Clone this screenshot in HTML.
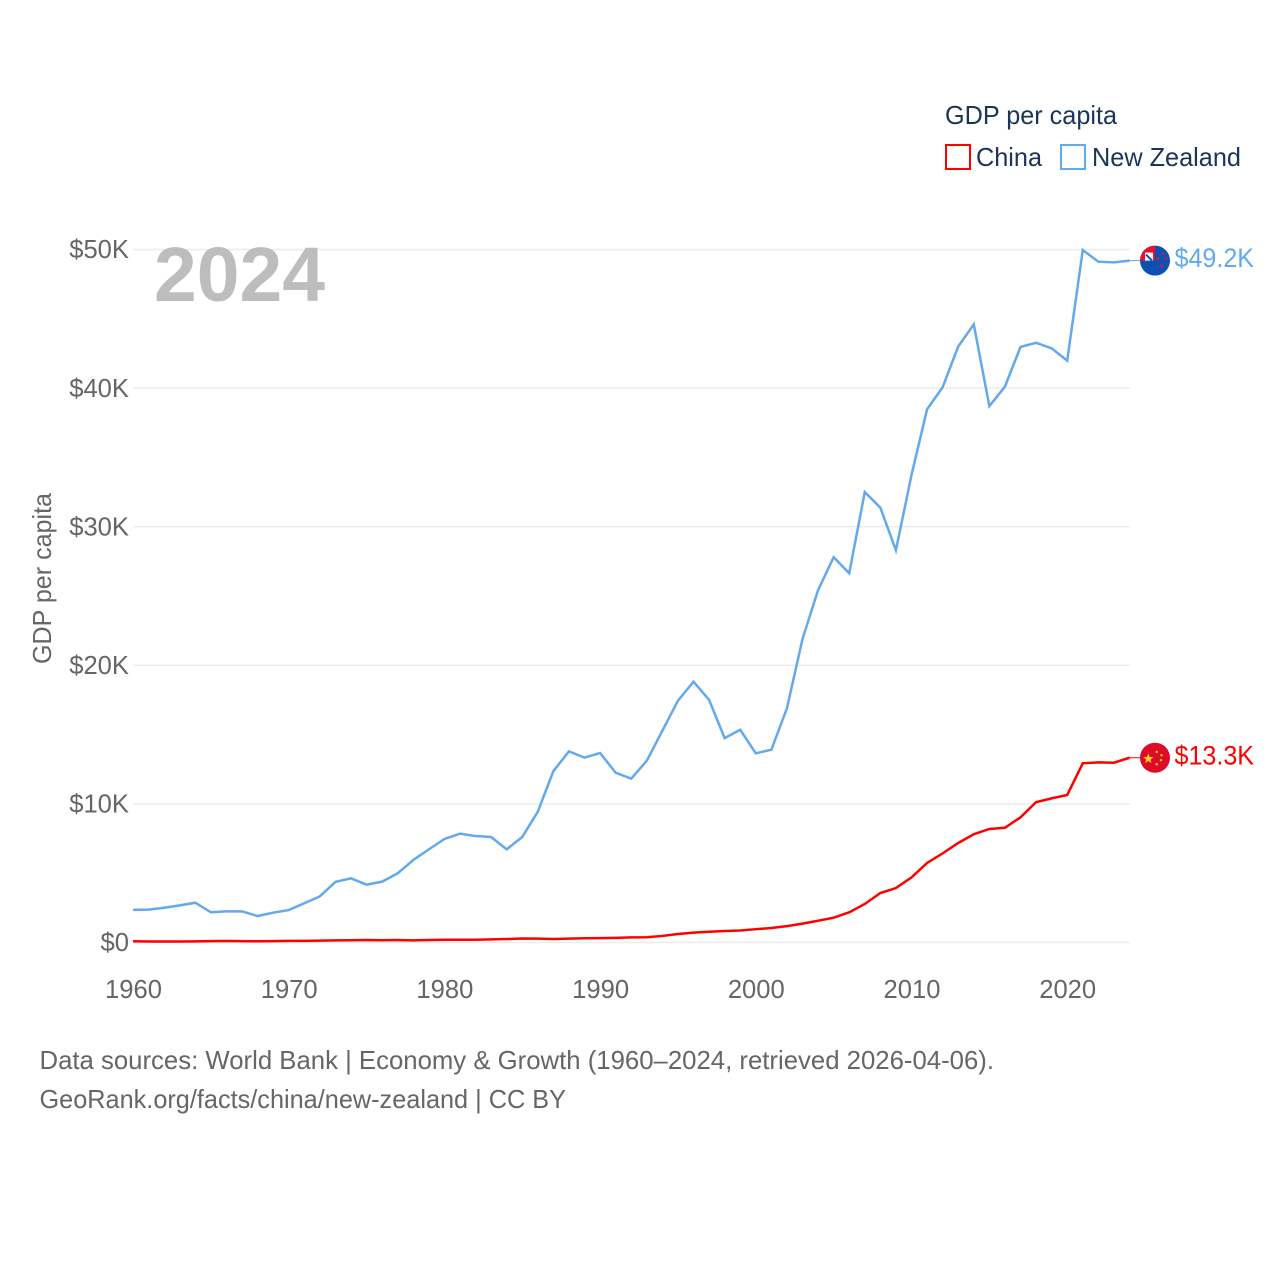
<!DOCTYPE html>
<html lang="en">
<head>
<meta charset="utf-8">
<title>GDP per capita: China and New Zealand</title>
<style>
html,body{margin:0;padding:0;background:#fff}
svg{display:block;font-family:"Liberation Sans",sans-serif}
.tick{font-size:25.6px;fill:#666}
.legend{font-size:26px;fill:#1a3556}
.foot{font-size:26px;fill:#666}
.value{font-size:26.5px}
</style>
</head>
<body>
<svg id="chart" xmlns="http://www.w3.org/2000/svg" width="1280" height="1280" viewBox="0 0 1280 1280">
  <rect x="0" y="0" width="1280" height="1280" fill="#fff"/>
  <g id="grid"></g>
  <text x="154" y="301" font-size="77" font-weight="700" fill="#bdbdbd" textLength="171" lengthAdjust="spacingAndGlyphs">2024</text>
  <g id="yaxis"></g>
  <g id="xaxis"></g>
  <text class="tick" transform="translate(51,664) rotate(-90)" textLength="171" lengthAdjust="spacingAndGlyphs">GDP per capita</text>
  <g id="series"></g>
  <g id="nz-flag">
    <clipPath id="nz-clip"><circle cx="0" cy="0" r="15"/></clipPath>
    <g clip-path="url(#nz-clip)">
      <rect x="-15" y="-15" width="30" height="30" fill="#0b50b5"/>
      <rect x="-15" y="-15" width="15" height="15" fill="#e8112d"/>
      <rect x="-10" y="-8" width="8" height="8" fill="#fff"/>
      <path d="M-9 -6L-3 0" stroke="#0b50b5" stroke-width="2"/>
      <circle cx="7.7" cy="-7" r="1.3" fill="#e8112d"/>
      <circle cx="11" cy="-2" r="1.2" fill="#e8112d"/>
      <circle cx="3.3" cy="-2" r="1.3" fill="#e8112d"/>
      <circle cx="6.7" cy="5.3" r="1.5" fill="#e8112d"/>
    </g>
  </g>
  <g id="cn-flag">
    <circle cx="0" cy="0" r="15" fill="#de0a2a"/>
    <path d="M-6.7 -4.4L-5.3 -0.7L-1.5 -0.7L-4.5 1.7L-3.5 5.4L-6.7 3.2L-9.9 5.4L-8.9 1.7L-11.9 -0.7L-8.1 -0.7Z" fill="#fcd116"/>
    <circle cx="1.7" cy="-5.8" r="1.2" fill="#fcd116"/>
    <circle cx="6.5" cy="-2.5" r="1.2" fill="#fcd116"/>
    <circle cx="6" cy="2.5" r="1.2" fill="#fcd116"/>
    <circle cx="1.7" cy="6.5" r="1.2" fill="#fcd116"/>
  </g>
  <text id="nz-value" class="value" x="1174.5" fill="#62a9ee" textLength="79.5" lengthAdjust="spacingAndGlyphs"></text>
  <text id="cn-value" class="value" x="1174.5" fill="#ff0000" textLength="79.5" lengthAdjust="spacingAndGlyphs"></text>

  <g>
    <text class="legend" x="945" y="124" textLength="172" lengthAdjust="spacingAndGlyphs">GDP per capita</text>
    <g>
      <rect x="946" y="145" width="24" height="24" fill="none" stroke="#ff0000" stroke-width="2"/>
      <text class="legend" x="976" y="166" textLength="66" lengthAdjust="spacingAndGlyphs">China</text>
    </g>
    <g>
      <rect x="1061" y="145" width="24" height="24" fill="none" stroke="#62a9ee" stroke-width="2"/>
      <text class="legend" x="1092" y="166" textLength="149" lengthAdjust="spacingAndGlyphs">New Zealand</text>
    </g>
  </g>

  <text class="foot" x="39.5" y="1069" textLength="954.5" lengthAdjust="spacingAndGlyphs">Data sources: World Bank | Economy &amp; Growth (1960–2024, retrieved 2026-04-06).</text>
  <text class="foot" x="39.5" y="1108" textLength="526.5" lengthAdjust="spacingAndGlyphs">GeoRank.org/facts/china/new-zealand | CC BY</text>
</svg>
<script>
const years = [1960,1961,1962,1963,1964,1965,1966,1967,1968,1969,1970,1971,1972,1973,1974,1975,1976,1977,1978,1979,1980,1981,1982,1983,1984,1985,1986,1987,1988,1989,1990,1991,1992,1993,1994,1995,1996,1997,1998,1999,2000,2001,2002,2003,2004,2005,2006,2007,2008,2009,2010,2011,2012,2013,2014,2015,2016,2017,2018,2019,2020,2021,2022,2023,2024];
const newZealandValues = [2.35,2.37,2.51,2.68,2.87,2.18,2.25,2.25,1.91,2.15,2.34,2.83,3.33,4.37,4.63,4.17,4.39,4.99,5.95,6.72,7.47,7.85,7.68,7.61,6.72,7.61,9.44,12.37,13.79,13.34,13.67,12.25,11.82,13.12,15.28,17.45,18.82,17.5,14.75,15.35,13.65,13.91,16.9,21.9,25.43,27.8,26.64,32.5,31.37,28.3,33.73,38.47,40.06,43.0,44.6,38.7,40.1,42.97,43.27,42.87,41.98,49.96,49.12,49.07,49.2];
const chinaValues = [0.09,0.076,0.07,0.074,0.085,0.098,0.104,0.097,0.091,0.1,0.113,0.119,0.132,0.157,0.16,0.178,0.165,0.185,0.156,0.184,0.195,0.197,0.203,0.225,0.25,0.29,0.28,0.25,0.28,0.31,0.318,0.333,0.366,0.377,0.473,0.61,0.71,0.78,0.83,0.87,0.96,1.05,1.18,1.36,1.57,1.79,2.18,2.78,3.57,3.93,4.7,5.74,6.43,7.18,7.81,8.19,8.28,9.03,10.13,10.4,10.64,12.93,13.0,12.97,13.33];
const yTickValues = [0,10,20,30,40,50];
const yTickLabels = ["$0","$10K","$20K","$30K","$40K","$50K"];
const xTickValues = [1960,1970,1980,1990,2000,2010,2020];
const xTickLabels = ["1960","1970","1980","1990","2000","2010","2020"];
const newZealandValueLabel = "$49.2K";
const chinaValueLabel = "$13.3K";

const NS = 'http://www.w3.org/2000/svg';
function xScale(year){ return 133 + (year - 1960) * 15.57; }
function yScale(v){ return 942.5 - v * 13.86; }
function make(tag, parent, attrs){
  const el = document.createElementNS(NS, tag);
  for (const k in attrs) el.setAttribute(k, attrs[k]);
  parent.appendChild(el);
  return el;
}

const grid = document.getElementById('grid');
const yaxis = document.getElementById('yaxis');
yTickValues.forEach(function(v, i){
  const line = make('line', grid, {x1: 133, x2: 1130, y1: yScale(v), y2: yScale(v), stroke: '#ebebeb', 'stroke-width': 1.4});
  
  
  const t = make('text', yaxis, {x: 129, y: yScale(v) + 8.7, 'text-anchor': 'end', class: 'tick'});
  
  
  t.textContent = yTickLabels[i];
});

const xaxis = document.getElementById('xaxis');
xTickValues.forEach(function(v, i){
  const t = make('text', xaxis, {x: xScale(v) + 0.5, y: 998, 'text-anchor': 'middle', class: 'tick'});
  
  
  t.textContent = xTickLabels[i];
});

function pathFor(values){
  return values.map(function(v, i){
    return (i ? 'L' : 'M') + xScale(years[i]).toFixed(2) + ' ' + yScale(v).toFixed(2);
  }).join('');
}
const series = document.getElementById('series');

const nzLine = make('path', series, {d: pathFor(newZealandValues), fill: 'none', stroke: '#62a9ee', 'stroke-width': 2.5, 'stroke-linejoin': 'miter'});



const cnLine = make('path', series, {d: pathFor(chinaValues), fill: 'none', stroke: '#ff0000', 'stroke-width': 2.5, 'stroke-linejoin': 'miter'});



const lastX = xScale(years[years.length - 1]);
const nzY = yScale(newZealandValues[newZealandValues.length - 1]);
const cnY = yScale(chinaValues[chinaValues.length - 1]);

const nzConnector = make('line', series, {x1: lastX, x2: 1141, y1: nzY, y2: nzY, stroke: '#62a9ee', 'stroke-width': 1});



const cnConnector = make('line', series, {x1: lastX, x2: 1141, y1: cnY, y2: cnY, stroke: '#ff0000', 'stroke-width': 1});



document.getElementById('nz-flag').setAttribute('transform', 'translate(1155,' + nzY + ')');
document.getElementById('cn-flag').setAttribute('transform', 'translate(1155,' + cnY + ')');

const nzText = document.getElementById('nz-value');
nzText.setAttribute('y', nzY + 6.2);
nzText.textContent = newZealandValueLabel;

const cnText = document.getElementById('cn-value');
cnText.setAttribute('y', cnY + 6.8);
cnText.textContent = chinaValueLabel;
</script>
</body>
</html>
